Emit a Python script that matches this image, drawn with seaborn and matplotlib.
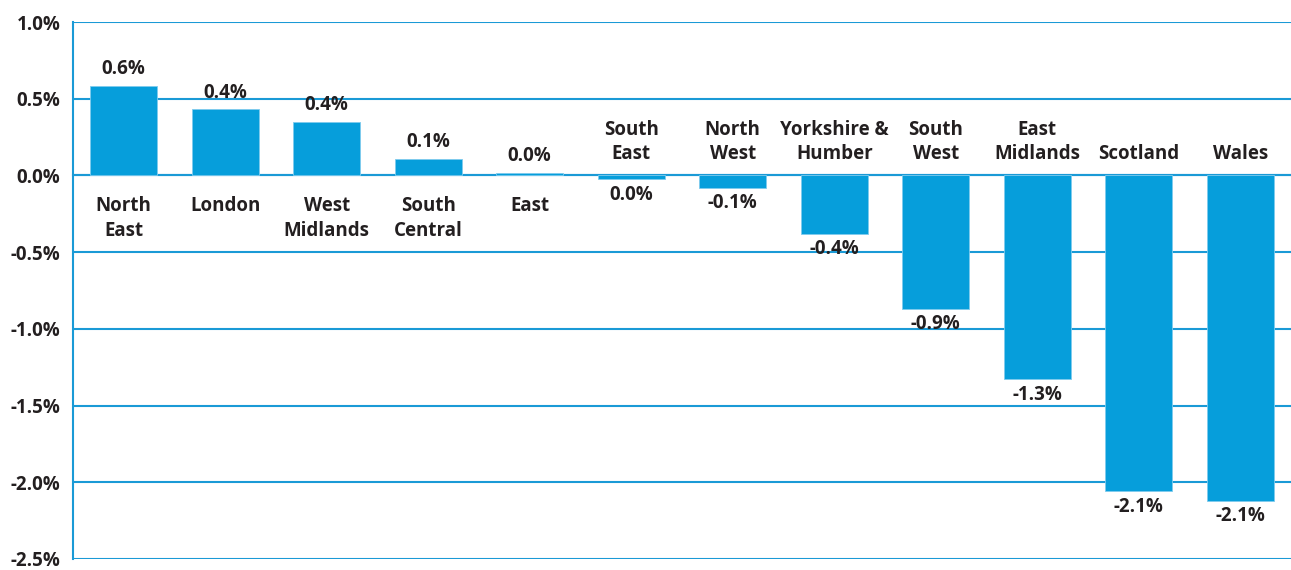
import matplotlib
matplotlib.use('Agg')
import matplotlib.pyplot as plt
import seaborn as sns
import numpy as np
import pandas as pd

regions = ["North\nEast", "London", "West\nMidlands", "South\nCentral", "East",
           "South\nEast", "North\nWest", "Yorkshire &\nHumber", "South\nWest",
           "East\nMidlands", "Scotland", "Wales"]
changes = [0.58, 0.43, 0.35, 0.11, 0.013, -0.025, -0.08, -0.38, -0.87, -1.33, -2.06, -2.12]
value_labels = ["0.6%", "0.4%", "0.4%", "0.1%", "0.0%", "0.0%", "-0.1%", "-0.4%",
                "-0.9%", "-1.3%", "-2.1%", "-2.1%"]
yticks = [1.0, 0.5, 0.0, -0.5, -1.0, -1.5, -2.0, -2.5]

bar_color = "#069edb"
line_color = "#1a9ad6"
text_color = "#231f20"

sns.set_style("white")
plt.rcParams['font.family'] = ['Open Sans', 'DejaVu Sans']
plt.rcParams['font.weight'] = 'bold'

df = pd.DataFrame({"region": regions, "change": changes})

fig = plt.figure(figsize=(12.91, 5.70), dpi=100)
ax = fig.add_axes([73 / 1291, 11 / 570, 1 - 73 / 1291, 537 / 570])

sns.barplot(data=df, x="region", y="change", color=bar_color, saturation=1,
            width=0.66, edgecolor="#7fcbee", linewidth=0.6, ax=ax, zorder=3)

ax.set_ylim(-2.5, 1.0)
ax.set_xlim(-0.5, len(regions) - 0.5)
ax.set_yticks(yticks)
ax.set_yticklabels([f"{v:.1f}%" for v in yticks], fontsize=13.5, fontweight='bold',
                   color=text_color)
ax.yaxis.grid(True, color=line_color, linewidth=1.5, zorder=0)
ax.set_axisbelow(True)
ax.tick_params(axis='y', length=5, width=1.5, color=line_color, pad=4)

# zero line with small ticks between categories
ax.spines['bottom'].set_position(('data', 0))
ax.spines['bottom'].set_color(line_color)
ax.spines['bottom'].set_linewidth(1.5)
ax.spines['left'].set_color(line_color)
ax.spines['left'].set_linewidth(1.5)
ax.spines['top'].set_visible(False)
ax.spines['right'].set_visible(False)
ax.set_xticks(np.arange(len(regions)))
ax.set_xticklabels([])
ax.tick_params(axis='x', which='major', length=0)
ax.set_xticks(np.arange(len(regions) + 1) - 0.5, minor=True)
ax.tick_params(axis='x', which='minor', length=5, width=1.5, color=line_color, direction='out')
ax.set_xlabel("")
ax.set_ylabel("")

for i, (name, v, lab) in enumerate(zip(regions, changes, value_labels)):
    if v >= 0:
        ax.annotate(lab, (i, v), xytext=(0, 5), textcoords='offset points',
                    ha='center', va='bottom', fontsize=13.5, fontweight='bold', color=text_color)
        ax.annotate(name, (i, 0), xytext=(0, -15), textcoords='offset points',
                    ha='center', va='top', fontsize=13.5, fontweight='bold', color=text_color,
                    linespacing=1.3)
    else:
        ax.annotate(lab, (i, v), xytext=(0, -4), textcoords='offset points',
                    ha='center', va='top', fontsize=13.5, fontweight='bold', color=text_color)
        ax.annotate(name, (i, 0), xytext=(0, 8), textcoords='offset points',
                    ha='center', va='bottom', fontsize=13.5, fontweight='bold', color=text_color,
                    linespacing=1.3)

fig.savefig("out.png", dpi=100)
plt.close(fig)
